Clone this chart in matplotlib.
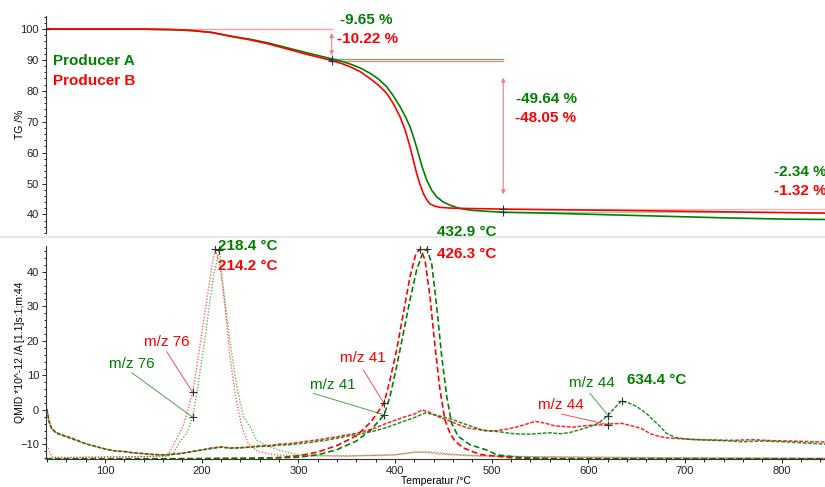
import matplotlib
matplotlib.use("Agg")
import matplotlib.pyplot as plt
from matplotlib.ticker import MultipleLocator

plt.rcParams['font.family'] = ['Liberation Sans', 'DejaVu Sans']

GREEN = '#008000'
RED = '#ff0000'

# ---------------- TG data ----------------
tgA_T = [39, 100, 140, 170, 190, 210, 232, 250, 270, 290, 310, 322, 334.5, 345, 353.4, 364,
         374.1, 383, 391.4, 398, 405.2, 410.5, 415.5, 420, 424.1, 428.5, 432.8, 438, 443.1,
         450, 456.9, 466, 477.6, 495, 512, 560, 620, 680, 740, 800, 845]
tg_A = [100, 100, 99.95, 99.8, 99.5, 98.9, 97.6, 96.7, 95.4, 93.8, 92.2, 91.3, 90.35, 89.5,
        88.7, 87.4, 85.7, 83.8, 81.3, 78.5, 74.9, 71.8, 68.4, 64.2, 59.8, 55.0, 51.1, 47.8,
        45.7, 44.0, 43.0, 42.0, 41.4, 41.0, 40.71, 40.4, 39.9, 39.4, 38.9, 38.5, 38.37]
tgB_T = [39, 100, 140, 170, 190, 210, 232, 250, 270, 290, 310, 322, 334.5, 345, 353.4, 364,
         374.1, 383, 391.4, 398, 405.2, 410.5, 415.5, 419, 422.4, 426, 429.3, 432.5, 436.2,
         441, 446.5, 458, 470.7, 490, 512, 560, 620, 680, 740, 800, 845]
tg_B = [100, 100, 99.95, 99.8, 99.5, 98.9, 97.5, 96.5, 95.1, 93.4, 91.7, 90.8, 89.78, 88.8,
        87.8, 86.2, 84.0, 81.8, 79.2, 76.0, 71.6, 67.3, 61.9, 57.5, 53.3, 49.6, 46.8, 44.9,
        43.4, 42.7, 42.3, 42.05, 41.95, 41.85, 41.73, 41.55, 41.35, 41.1, 40.85, 40.6, 40.41]

step_T = [39, 334.5, 512, 845]
step_A = [-9.65, -49.64, -2.34]
step_B = [-10.22, -48.05, -1.32]

# ---------------- QMID data ----------------
m76_T_A = [39, 45, 60, 100, 140, 165, 170.7, 177.6, 184.5, 190.7, 196.5, 201.7, 206.9, 212.1,
           218.4, 220.7, 225.9, 231.1, 236.2, 243.1, 250, 256.9, 265.5, 279.3, 300, 350, 400,
           420, 435, 450, 480, 550, 650, 750, 845]
m76_A = [-13.8, -13.9, -13.8, -13.7, -13.6, -13.4, -12.5, -9.2, -6.8, -2.1, 7.7, 17.4, 28, 38.6,
         46.4, 39.6, 27, 16.4, 6.8, -1.9, -4.8, -8.7, -10.1, -11.6, -13.0, -13.3, -13.0,
         -12.3, -12.1, -12.6, -13.2, -13.6, -13.8, -13.9, -14.0]
m76_T_B = [39, 41, 45, 60, 100, 140, 165, 172, 181, 190.7, 196.5, 201.7, 206.9, 210.4, 214.2,
           219, 224.1, 229.3, 234.5, 241.4, 248.2, 258.6, 276, 300, 350, 400, 420, 432, 445,
           480, 550, 650, 750, 845]
m76_B = [-10.6, -10.8, -13.6, -13.8, -13.6, -13.5, -13.2, -9.5, -4.5, 5.1, 15.5, 25.1, 34.8,
         41.5, 46.6, 41.5, 30, 15.5, 4.8, -4.8, -9.7, -12.1, -13.0, -13.3, -13.4, -13.0, -12.2,
         -12.3, -12.8, -13.3, -13.6, -13.8, -13.9, -14.0]

m41_T_A = [39, 100, 200, 250, 300, 320, 340, 360, 375, 388.9, 394.8, 401.7, 408.6, 415.5,
           422.4, 429.3, 432.9, 437.9, 443.1, 448.3, 453.5, 458.6, 465.5, 477.6, 494.8, 505.2,
           530, 560, 700, 845]
m41_A = [-14.2, -14.2, -14.1, -14.0, -13.7, -13.0, -11.5, -9.0, -5.8, -1.4, 3.9, 12.6, 22.2,
         31.9, 40.6, 45.9, 46.6, 42.5, 30, 15.5, 3.9, -3.9, -7.7, -10.1, -11.6, -13.0,
         -13.8, -14.1, -14.2, -14.2]
m41_T_B = [39, 100, 200, 250, 280, 300, 320, 340, 360, 375, 388.6, 394.8, 401.7, 408.6, 415.5,
           421.7, 426.3, 431, 436.2, 441.4, 446.5, 451.7, 456.9, 462, 470.7, 487.9, 522, 560,
           650, 845]
m41_B = [-14.2, -14.2, -14.1, -14.0, -13.8, -13.3, -12.2, -10.3, -7.5, -3.5, 1.9, 8.7, 17.4,
         28, 38.6, 45.4, 46.6, 43.5, 32.8, 18.3, 5.8, -2.9, -6.8, -9.0, -11.0, -12.9, -13.9,
         -14.1, -14.2, -14.2]

m44_T_A = [40, 42, 45, 50, 60, 70, 80, 90, 100, 110, 120, 130, 140, 150, 160, 170, 180, 190,
           200, 210, 220, 230, 240, 250, 260, 270, 280, 290, 300, 310, 320, 330, 340, 350,
           360, 370, 380, 390, 400, 410, 420, 432, 440, 450, 460, 470, 480, 490, 500, 510,
           520, 530, 540, 550, 560, 570, 580, 590, 600, 610, 620, 627, 634, 642, 650, 660,
           667, 675, 681, 690, 700, 720, 740, 760, 780, 800, 820, 845]
m44_A = [0.3, -3.5, -5.5, -6.6, -7.6, -8.6, -9.8, -10.5, -11.3, -11.9, -12.1, -12.4, -12.7,
         -12.9, -13.0, -12.9, -12.6, -12.0, -11.6, -11.2, -10.8, -11.1, -11.0, -10.8, -10.6,
         -10.5, -10.2, -10.1, -9.8, -9.5, -9.1, -8.7, -8.2, -7.6, -7.2, -6.6, -6.0, -5.2,
         -4.2, -3.2, -2.2, -0.8, -1.4, -2.0, -2.8, -3.9, -4.8, -5.8, -6.1, -6.4, -6.8, -7.0,
         -7.0, -6.8, -6.6, -6.9, -6.6, -5.8, -5.0, -3.9, -1.7, 0.5, 2.6, 2.0, 1.0, -1.0, -2.9,
         -5.0, -6.8, -8.0, -8.4, -8.7, -8.9, -9.2, -9.0, -9.2, -9.5, -9.9]
m44_T_B = [40, 42, 45, 50, 60, 70, 80, 90, 100, 110, 120, 130, 140, 150, 160, 170, 180, 190,
           200, 210, 220, 230, 240, 250, 260, 270, 280, 290, 300, 310, 320, 330, 340, 350,
           360, 370, 380, 390, 400, 410, 420, 428, 435, 445, 455, 465, 475, 485, 495, 505,
           515, 525, 535, 545, 555, 565, 575, 585, 595, 605, 615, 625, 635, 645, 655, 665,
           675, 685, 695, 710, 730, 750, 770, 790, 810, 830, 845]
m44_B = [0.0, -3.0, -5.5, -6.8, -7.8, -8.8, -9.8, -10.6, -11.3, -11.8, -12.0, -12.5, -12.6,
         -12.9, -13.0, -12.8, -12.5, -12.1, -11.6, -11.0, -10.7, -11.0, -10.9, -10.7, -10.4,
         -10.3, -9.9, -9.8, -9.4, -9.0, -8.7, -8.2, -7.8, -7.2, -6.8, -6.0, -5.2, -4.0, -3.0,
         -2.0, -1.2, 0.0, -0.6, -2.0, -3.0, -4.2, -5.2, -5.6, -6.1, -6.0, -5.6, -5.0, -4.2,
         -3.3, -3.8, -4.6, -4.8, -5.0, -4.6, -4.4, -4.3, -4.0, -3.9, -4.6, -5.4, -7.0, -7.8,
         -8.2, -8.3, -8.6, -8.7, -8.8, -8.6, -8.9, -9.0, -9.2, -9.3]

peak76 = [218.4, 214.2]
peak41 = [432.9, 426.3]
peak44 = [634.4]

XLIM = (39, 844.8)

fig = plt.figure(figsize=(8.25, 4.87), dpi=100)
ax1 = fig.add_axes([0.0558, 0.5216, 0.9442, 0.4455])
ax2 = fig.add_axes([0.0558, 0.0565, 0.9442, 0.4384])

# separator
fig.add_artist(plt.Line2D([0, 1], [0.5133, 0.5133], color='#e3e3e3', lw=1.2,
                          transform=fig.transFigure))

for ax in (ax1, ax2):
    ax.set_xlim(*XLIM)
    for s in ('top', 'right'):
        ax.spines[s].set_visible(False)
    ax.spines['left'].set_color('#333333')
    ax.spines['left'].set_linewidth(0.8)
    ax.tick_params(axis='both', labelsize=8, length=3, width=0.7, colors='#222222', pad=2)
    ax.tick_params(which='minor', length=1.8, width=0.6)
    ax.patch.set_alpha(0)

# ---------------- Top panel ----------------
ax1.spines['bottom'].set_visible(False)
ax1.tick_params(axis='x', which='both', bottom=False, labelbottom=False)
ax1.set_ylim(34.0, 104.2)
ax1.yaxis.set_minor_locator(MultipleLocator(2))
ax1.set_yticks([40, 50, 60, 70, 80, 90, 100])
ax1.set_ylabel('TG /%', fontsize=7.5, va='center')
ax1.yaxis.set_label_coords(-0.0334, 0.5)

ax1.plot(tgA_T, tg_A, color=GREEN, lw=1.2, zorder=3)
ax1.plot(tgB_T, tg_B, color=RED, lw=1.2, zorder=3)

# step evaluation lines
lvlA = [100]
lvlB = [100]
for d in step_A:
    lvlA.append(lvlA[-1] + d)
for d in step_B:
    lvlB.append(lvlB[-1] + d)

ax1.plot([step_T[0], step_T[1]], [100, 100], color='#ff9d9d', lw=1.0, zorder=2)
ax1.plot([step_T[1], step_T[2]], [lvlA[1], lvlA[1]], color='#66b266', lw=0.9, zorder=2)
ax1.plot([step_T[1], step_T[2]], [lvlB[1], lvlB[1]], color='#ff7a7a', lw=0.9, zorder=2)
ax1.plot([step_T[2], step_T[3]], [lvlB[2], lvlB[2]], color='#ffb0b0', lw=0.9, zorder=2)
ax1.plot([step_T[2], step_T[3]], [lvlA[2], lvlA[2]], color='#9fd09f', lw=0.9, zorder=2)

arrow_kw = dict(arrowstyle='<|-|>', color='#f08080', lw=0.8, mutation_scale=6)
ax1.annotate('', xy=(step_T[1], 90.6), xytext=(step_T[1], 99.6), arrowprops=arrow_kw)
ax1.annotate('', xy=(step_T[2], 45.6), xytext=(step_T[2], 85.2), arrowprops=arrow_kw)

ax1.plot([step_T[0], step_T[1], step_T[1], step_T[2], step_T[2]],
         [100, lvlA[1], lvlB[1], lvlA[2], lvlB[2]],
         linestyle='none', marker='+', color='#333333', ms=6, mew=0.8, zorder=5)

bold = dict(fontsize=11, fontweight='bold', va='center', ha='left')
ax1.text(343, 102.9, '%.2f %%' % step_A[0], color=GREEN, **bold)
ax1.text(340, 96.8, '%.2f %%' % step_B[0], color=RED, **bold)
ax1.text(525, 77.3, '%.2f %%' % step_A[1], color=GREEN, **bold)
ax1.text(524, 71.2, '%.2f %%' % step_B[1], color=RED, **bold)
ax1.text(792, 53.7, '%.2f %%' % step_A[2], color=GREEN, **bold)
ax1.text(792, 47.6, '%.2f %%' % step_B[2], color=RED, **bold)
ax1.text(46, 89.6, 'Producer A', color=GREEN, **bold)
ax1.text(46, 83.2, 'Producer B', color=RED, **bold)

# ---------------- Bottom panel ----------------
ax2.set_ylim(-14.35, 47.5)
ax2.yaxis.set_major_locator(MultipleLocator(10))
ax2.yaxis.set_minor_locator(MultipleLocator(2))
ax2.xaxis.set_minor_locator(MultipleLocator(20))
ax2.set_xticks([100, 200, 300, 400, 500, 600, 700, 800])
ax2.spines['bottom'].set_color('#333333')
ax2.spines['bottom'].set_linewidth(0.8)
ax2.set_ylabel('QMID *10^-12 /A [1.1]s:1;m:44', fontsize=7.5, va='center')
ax2.yaxis.set_label_coords(-0.033, 0.5)
ax2.set_xlabel('Temperatur /°C', fontsize=7.5, va='center')
ax2.xaxis.set_label_coords(0.5, -0.1)

ax2.plot(m76_T_A, m76_A, color=GREEN, lw=1.0, ls=(0, (1, 1.2)), alpha=0.6)
ax2.plot(m76_T_B, m76_B, color=RED, lw=1.0, ls=(0, (1, 1.2)), alpha=0.6)
ax2.plot(m41_T_B, m41_B, color=RED, lw=1.2, ls=(0, (3.5, 1.8)))
ax2.plot(m41_T_A, m41_A, color=GREEN, lw=1.2, ls=(0, (3.5, 1.8)))
ax2.plot(m44_T_B, m44_B, color=RED, lw=1.1, ls=(0, (2.5, 1)), alpha=0.85)
ax2.plot(m44_T_A, m44_A, color=GREEN, lw=1.1, ls=(0, (2.5, 1)), alpha=0.85)

# peak markers
ax2.plot([peak76[0], peak76[1], peak41[0], peak41[1], peak44[0]],
         [46.4, 46.6, 46.6, 46.6, 2.6], linestyle='none', marker='+',
         color='#333333', ms=6, mew=0.8, zorder=5)

ax2.text(216.9, 47.5, '%.1f °C' % peak76[0], color=GREEN, **bold)
ax2.text(216.9, 41.7, '%.1f °C' % peak76[1], color=RED, **bold)
ax2.text(443.4, 51.6, '%.1f °C' % peak41[0], color=GREEN, **bold)
ax2.text(443.4, 45.2, '%.1f °C' % peak41[1], color=RED, **bold)
ax2.text(640, 8.7, '%.1f °C' % peak44[0], color=GREEN, **bold)

def label(ax, txt, color, tx, ty, lx, ly, px, py):
    ax.text(tx, ty, txt, color=color, fontsize=11, ha='center', va='center')
    ax.plot([lx, px], [ly, py], color=color, lw=0.7, alpha=0.7)
    ax.plot([px], [py], marker='+', color='#333333', ms=6, mew=0.8, zorder=5)

label(ax2, 'm/z 76', RED, 163.6, 19.7, 163.8, 16.9, 190.7, 5.1)
label(ax2, 'm/z 76', GREEN, 127.4, 13.3, 127.6, 10.8, 190.7, -2.1)
label(ax2, 'm/z 41', RED, 366.4, 15.1, 367.2, 11.6, 388.6, 1.9)
label(ax2, 'm/z 41', GREEN, 335.3, 7.2, 315.5, 4.8, 388.9, -1.4)
label(ax2, 'm/z 44', GREEN, 603.8, 7.8, 601.7, 4.8, 620.7, -1.7)
label(ax2, 'm/z 44', RED, 572, 1.4, 572.4, -1.2, 620.7, -4.3)

fig.savefig('out.png', dpi=100)
